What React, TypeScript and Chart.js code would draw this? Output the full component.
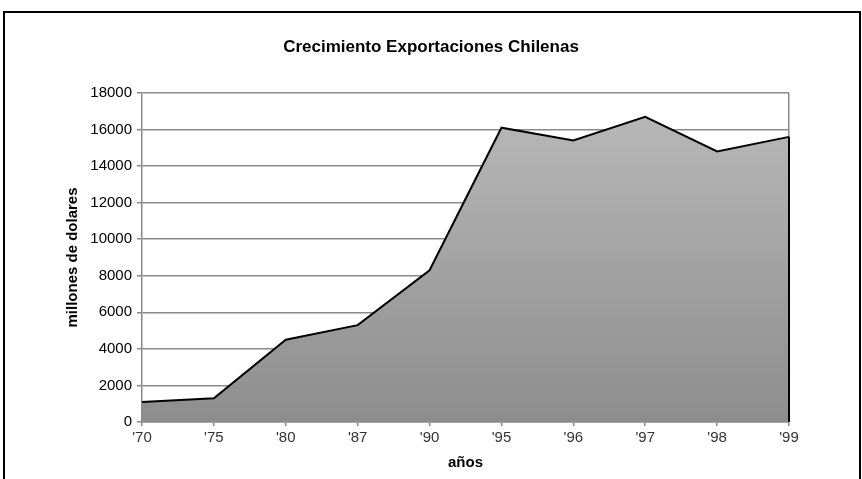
import React, { useEffect, useRef } from "react";
import { Chart, registerables } from "chart.js";

Chart.register(...registerables);

const categories: string[] = ["'70", "'75", "'80", "'87", "'90", "'95", "'96", "'97", "'98", "'99"];
const exportValues: number[] = [1100, 1300, 4500, 5300, 8300, 16100, 15400, 16700, 14800, 15600];
const yTicks: number[] = [0, 2000, 4000, 6000, 8000, 10000, 12000, 14000, 16000, 18000];

const titleText = "Crecimiento Exportaciones Chilenas";
const yTitle = "millones de dolares";
const xTitle = "años";

const FONT = "'Liberation Sans', Arial, sans-serif";
const GRID = "#8a8a8a";

const rightEdgePlugin = {
  id: "rightEdge",
  afterDatasetsDraw(chart: any) {
    const meta = chart.getDatasetMeta(0);
    const pts = meta.data;
    if (!pts || !pts.length) return;
    const last = pts[pts.length - 1];
    const base = chart.scales.y.getPixelForValue(0);
    const ctx = chart.ctx;
    ctx.save();
    ctx.strokeStyle = "#000";
    ctx.lineWidth = 2;
    ctx.beginPath();
    ctx.moveTo(last.x, last.y);
    ctx.lineTo(last.x, base);
    ctx.stroke();
    ctx.restore();
  },
};

export default function App() {
  const ref = useRef<HTMLCanvasElement | null>(null);

  useEffect(() => {
    if (!ref.current) return;
    const chart = new Chart(ref.current, {
      type: "line",
      data: {
        labels: categories,
        datasets: [
          {
            data: exportValues,
            borderColor: "#000",
            borderWidth: 2,
            pointRadius: 0,
            tension: 0,
            fill: "origin",
            backgroundColor: (c: any) => {
              const area = c.chart.chartArea;
              if (!area) return "#a0a0a0";
              const g = c.chart.ctx.createLinearGradient(0, area.top, 0, area.bottom);
              g.addColorStop(0, "#bababa");
              g.addColorStop(1, "#8d8d8d");
              return g;
            },
          },
        ],
      },
      options: {
        responsive: false,
        animation: false,
        layout: { padding: 0 },
        plugins: {
          legend: { display: false },
          tooltip: { enabled: false },
          title: {
            display: true,
            text: titleText,
            color: "#000",
            font: { family: FONT, size: 17, weight: "bold" },
            padding: { top: 36.8, bottom: 35.8 },
          },
        },
        scales: {
          x: {
            offset: false,
            afterFit: (s: any) => {
              s.height = 57;
            },
            grid: {
              color: (c: any) => (c.index === categories.length - 1 ? GRID : "rgba(0,0,0,0)"),
              tickColor: GRID,
              lineWidth: 1.5,
              tickLength: 4,
              drawOnChartArea: true,
            },
            border: { display: true, color: GRID, width: 1.5 },
            ticks: {
              color: "#333",
              font: { family: FONT, size: 15 },
              padding: 3,
              maxRotation: 0,
              autoSkip: false,
            },
            title: {
              display: true,
              text: xTitle,
              color: "#000",
              font: { family: FONT, size: 15, weight: "bold" },
              padding: { top: 0, bottom: 7 },
            },
          },
          y: {
            min: 0,
            max: 18000,
            afterFit: (s: any) => {
              s.width = 142;
            },
            afterBuildTicks: (s: any) => {
              s.ticks = yTicks.map((v) => ({ value: v }));
            },
            grid: {
              color: GRID,
              lineWidth: 1.5,
              tickLength: 5,
            },
            border: { display: true, color: GRID, width: 1.5 },
            ticks: {
              color: "#000",
              font: { family: FONT, size: 15 },
              padding: 5,
              callback: (v: any) => String(v),
            },
            title: {
              display: true,
              text: yTitle,
              color: "#000",
              font: { family: FONT, size: 15, weight: "bold" },
              padding: { top: 64, bottom: 0 },
            },
          },
          yRight: {
            position: "right",
            min: 0,
            max: 1,
            afterFit: (s: any) => {
              s.width = 73;
            },
            grid: { display: false, drawOnChartArea: false },
            border: { display: false },
            ticks: { display: false },
          },
        },
      },
      plugins: [rightEdgePlugin],
    } as any);
    return () => chart.destroy();
  }, []);

  return (
    <div style={{ position: "fixed", left: 0, top: 0, width: 862, height: 479, background: "#fff", overflow: "hidden" }}>
      <canvas ref={ref} width={862} height={479} style={{ position: "absolute", left: 0, top: 0, width: 862, height: 479 }} />
      <div
        style={{
          position: "absolute",
          left: 3,
          top: 11,
          width: 854,
          height: 520,
          border: "2px solid #000",
          pointerEvents: "none",
        }}
      />
    </div>
  );
}
